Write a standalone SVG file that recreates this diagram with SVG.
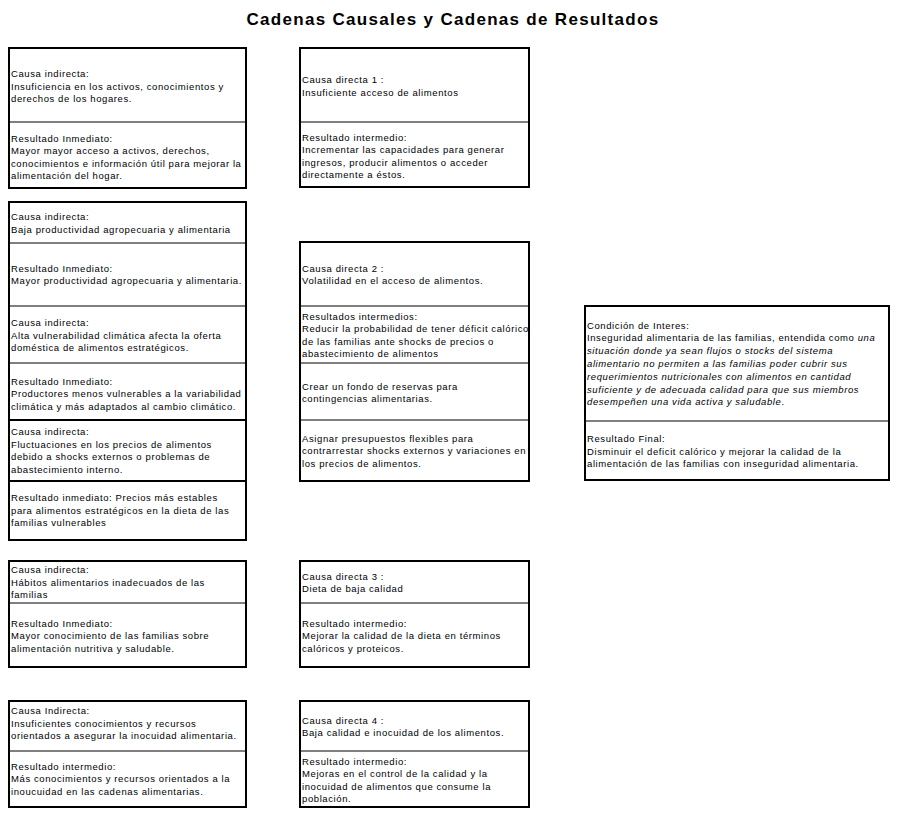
<svg xmlns="http://www.w3.org/2000/svg" width="898" height="838" viewBox="0 0 898 838">
<style>
.bg{fill:#fff}
.box{fill:#fff;stroke:#000;stroke-width:2}
.div{stroke:#000;stroke-width:1}
.divb{stroke:#000;stroke-width:2}
.t{font-family:"Liberation Sans",Arial,sans-serif;font-size:9.5px;letter-spacing:0.6px;fill:#000}
.i{font-style:italic}
.title{font-family:"Liberation Sans",Arial,sans-serif;font-size:17px;font-weight:bold;letter-spacing:1.3px;fill:#000}
</style>
<rect class="bg" x="0" y="0" width="898" height="838"/>
<text class="title" x="453" y="25" text-anchor="middle">Cadenas Causales y Cadenas de Resultados</text>
<g id="connectors"/>

<g id="L1">
<rect class="box" x="9" y="48" width="237" height="140"/>
<line class="div" x1="9" y1="122" x2="246" y2="122"/>
<text class="t" x="11" y="77">Causa indirecta:</text>
<text class="t" x="11" y="89.5">Insuficiencia en los activos, conocimientos y</text>
<text class="t" x="11" y="102">derechos de los hogares.</text>
<text class="t" x="11" y="141.5">Resultado Inmediato:</text>
<text class="t" x="11" y="154">Mayor mayor acceso a activos, derechos,</text>
<text class="t" x="11" y="166.5">conocimientos e información útil para mejorar la</text>
<text class="t" x="11" y="179">alimentación del hogar.</text>
</g>

<g id="L2">
<rect class="box" x="9" y="202" width="237" height="338"/>
<line class="div" x1="9" y1="243" x2="246" y2="243"/>
<line class="div" x1="9" y1="306" x2="246" y2="306"/>
<line class="div" x1="9" y1="363" x2="246" y2="363"/>
<line class="divb" x1="9" y1="420" x2="246" y2="420"/>
<line class="divb" x1="9" y1="481" x2="246" y2="481"/>
<text class="t" x="11" y="220">Causa indirecta:</text>
<text class="t" x="11" y="232.5">Baja productividad agropecuaria  y alimentaria</text>
<text class="t" x="11" y="271.5">Resultado Inmediato:</text>
<text class="t" x="11" y="284">Mayor productividad agropecuaria y alimentaria.</text>
<text class="t" x="11" y="326">Causa indirecta:</text>
<text class="t" x="11" y="338.5">Alta vulnerabilidad climática afecta la oferta</text>
<text class="t" x="11" y="351">doméstica de alimentos estratégicos.</text>
<text class="t" x="11" y="384.5">Resultado Inmediato:</text>
<text class="t" x="11" y="397">Productores menos vulnerables a la variabilidad</text>
<text class="t" x="11" y="409.5">climática y más adaptados al cambio climático.</text>
<text class="t" x="11" y="435">Causa indirecta:</text>
<text class="t" x="11" y="447.5">Fluctuaciones en los precios de alimentos</text>
<text class="t" x="11" y="460">debido a shocks externos o problemas de</text>
<text class="t" x="11" y="472.5">abastecimiento interno.</text>
<text class="t" x="11" y="501">Resultado inmediato: Precios más estables</text>
<text class="t" x="11" y="513.5">para alimentos estratégicos en la dieta de las</text>
<text class="t" x="11" y="526">familias vulnerables</text>
</g>

<g id="L3">
<rect class="box" x="9" y="561" width="237" height="106"/>
<line class="div" x1="9" y1="603" x2="246" y2="603"/>
<text class="t" x="11" y="573">Causa indirecta:</text>
<text class="t" x="11" y="585.5">Hábitos alimentarios  inadecuados de las</text>
<text class="t" x="11" y="598">familias</text>
<text class="t" x="11" y="626.5">Resultado Inmediato:</text>
<text class="t" x="11" y="639">Mayor conocimiento de las familias sobre</text>
<text class="t" x="11" y="651.5">alimentación nutritiva y saludable.</text>
</g>

<g id="L4">
<rect class="box" x="9" y="701" width="237" height="106"/>
<line class="div" x1="9" y1="751" x2="246" y2="751"/>
<text class="t" x="11" y="714">Causa Indirecta:</text>
<text class="t" x="11" y="726.5">Insuficientes conocimientos y recursos</text>
<text class="t" x="11" y="739">orientados a asegurar la inocuidad alimentaria.</text>
<text class="t" x="11" y="769.5">Resultado intermedio:</text>
<text class="t" x="11" y="782">Más conocimientos y recursos orientados a la</text>
<text class="t" x="11" y="794.5">inoucuidad en las cadenas alimentarias.</text>
</g>

<g id="M1">
<rect class="box" x="300" y="48" width="229" height="139"/>
<line class="div" x1="300" y1="122" x2="529" y2="122"/>
<text class="t" x="302" y="83">Causa directa 1 :</text>
<text class="t" x="302" y="95.5">Insuficiente acceso de alimentos</text>
<text class="t" x="302" y="140.5">Resultado intermedio:</text>
<text class="t" x="302" y="153">Incrementar las capacidades para generar</text>
<text class="t" x="302" y="165.5">ingresos, producir alimentos o acceder</text>
<text class="t" x="302" y="178">directamente a éstos.</text>
</g>

<g id="M2">
<rect class="box" x="300" y="242" width="229" height="239"/>
<line class="div" x1="300" y1="306" x2="529" y2="306"/>
<line class="div" x1="300" y1="363" x2="529" y2="363"/>
<line class="div" x1="300" y1="420" x2="529" y2="420"/>
<text class="t" x="302" y="271.5">Causa directa 2 :</text>
<text class="t" x="302" y="284">Volatilidad en el acceso de alimentos.</text>
<text class="t" x="302" y="319.5">Resultados intermedios:</text>
<text class="t" x="302" y="332">Reducir la probabilidad de tener déficit calórico</text>
<text class="t" x="302" y="344.5">de las familias ante shocks de precios o</text>
<text class="t" x="302" y="357">abastecimiento de alimentos</text>
<text class="t" x="302" y="389.5">Crear un fondo de reservas para</text>
<text class="t" x="302" y="402">contingencias alimentarias.</text>
<text class="t" x="302" y="441.5">Asignar presupuestos flexibles para</text>
<text class="t" x="302" y="454">contrarrestar shocks externos y variaciones en</text>
<text class="t" x="302" y="466.5">los precios de alimentos.</text>
</g>

<g id="M3">
<rect class="box" x="300" y="561" width="229" height="106"/>
<line class="div" x1="300" y1="603" x2="529" y2="603"/>
<text class="t" x="302" y="579.5">Causa directa 3 :</text>
<text class="t" x="302" y="592">Dieta de baja calidad</text>
<text class="t" x="302" y="626.5">Resultado intermedio:</text>
<text class="t" x="302" y="639">Mejorar la calidad de la dieta en términos</text>
<text class="t" x="302" y="651.5">calóricos y proteicos.</text>
</g>

<g id="M4">
<rect class="box" x="300" y="701" width="229" height="106"/>
<line class="div" x1="300" y1="751" x2="529" y2="751"/>
<text class="t" x="302" y="723.5">Causa directa 4 :</text>
<text class="t" x="302" y="736">Baja calidad e inocuidad de los alimentos.</text>
<text class="t" x="302" y="764.5">Resultado intermedio:</text>
<text class="t" x="302" y="777">Mejoras en el control de la calidad y la</text>
<text class="t" x="302" y="789.5">inocuidad de alimentos que consume la</text>
<text class="t" x="302" y="802">población.</text>
</g>

<g id="R">
<rect class="box" x="585" y="306" width="304" height="174"/>
<line class="div" x1="585" y1="421" x2="889" y2="421"/>
<text class="t" x="587" y="328.5">Condición de Interes:</text>
<text class="t" x="587" y="341.3">Inseguridad alimentaria de las familias, entendida como <tspan class="i">una</tspan></text>
<text class="t i" x="587" y="354.1">situación donde ya sean flujos o stocks del sistema</text>
<text class="t i" x="587" y="366.9">alimentario no permiten a las familias poder cubrir sus</text>
<text class="t i" x="587" y="379.7">requerimientos nutricionales con alimentos en cantidad</text>
<text class="t i" x="587" y="392.5">suficiente y de adecuada calidad para que sus miembros</text>
<text class="t" x="587" y="405.3"><tspan class="i">desempeñen una vida activa y saludable</tspan>.</text>
<text class="t" x="587" y="441.5">Resultado Final:</text>
<text class="t" x="587" y="454.5">Disminuir el deficit calórico y mejorar la calidad de la</text>
<text class="t" x="587" y="467">alimentación de las familias con inseguridad alimentaria.</text>
</g>
</svg>
